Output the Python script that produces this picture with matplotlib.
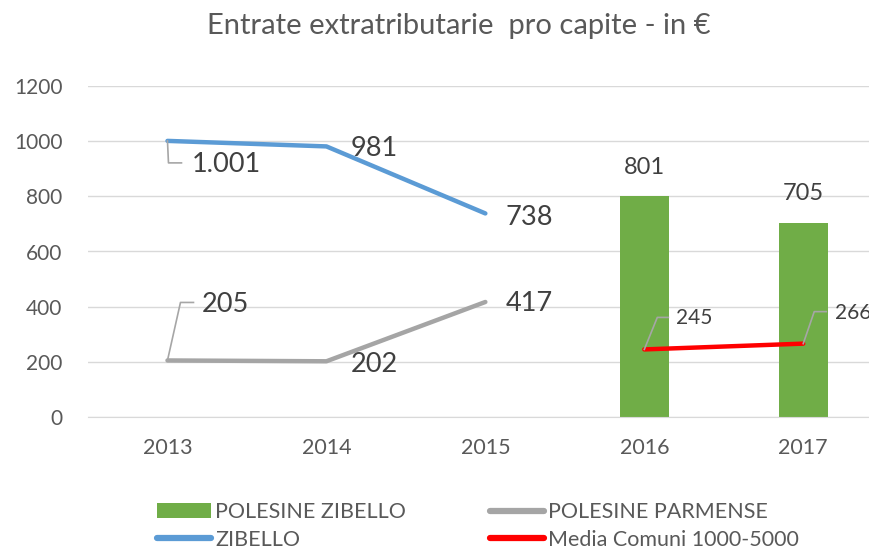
import matplotlib
matplotlib.use("Agg")
import matplotlib.pyplot as plt
from matplotlib.patches import Patch
from matplotlib.lines import Line2D
import numpy as np

plt.rcParams['font.family'] = ['Lato', 'DejaVu Sans']

years = ["2013", "2014", "2015", "2016", "2017"]
zibello = [1001, 981, 738]
parmense = [205, 202, 417]
polesine_zibello = [801, 705]
media = [245, 266]
zibello_labels = ["1.001", "981", "738"]
parmense_labels = ["205", "202", "417"]
bar_labels = ["801", "705"]
media_labels = ["245", "266"]
yticks = [0, 200, 400, 600, 800, 1000, 1200]

GREEN = "#70AD47"
BLUE = "#5B9BD5"
GRAY = "#A5A5A5"
RED = "#FF0000"
TXT = "#404040"
TICK = "#595959"

fig = plt.figure(figsize=(8.7, 5.52), dpi=100)
ax = fig.add_axes([88/870, (552-417)/552, 1 - 88/870, (417-86)/552])

x = np.arange(len(years))
xl = x[:3]
xb = x[3:]

ax.bar(xb, polesine_zibello, width=0.31, color=GREEN, zorder=2)
ax.plot(xl, zibello, color=BLUE, lw=3.2, solid_capstyle='round', zorder=3)
ax.plot(xl, parmense, color=GRAY, lw=3.2, solid_capstyle='round', zorder=3)
ax.plot(xb, media, color=RED, lw=3.2, solid_capstyle='round', zorder=4)

ax.set_xlim(-0.5, 4.42)
ax.set_ylim(0, 1200)
ax.set_yticks(yticks)
ax.set_xticks(x)
ax.set_xticklabels(years)
ax.grid(axis='y', color='#D9D9D9', lw=1, zorder=0)
ax.set_axisbelow(True)
for s in ax.spines.values():
    s.set_visible(False)
ax.spines['bottom'].set_visible(True)
ax.spines['bottom'].set_color('#D9D9D9')
ax.tick_params(axis='both', length=0, colors=TICK)
ax.tick_params(axis='x', pad=15, labelsize=15.5)
ax.tick_params(axis='y', pad=18.5, labelsize=15)

fig.text(0.527, 0.952, "Entrate extratributarie  pro capite - in €", ha='center', va='center',
         fontsize=21, color=TICK)

def to_disp(xv, yv):
    return ax.transData.transform((xv, yv))

def leader(xv, yv, pts):
    px, py = to_disp(xv, yv)
    xs = [px + p[0] for p in pts]
    ys = [py + p[1] for p in pts]
    fig.add_artist(Line2D(xs, ys, transform=None, color="#A6A6A6", lw=1.2, zorder=5))

def label(xv, yv, txt, dx, dy, size, ha='left'):
    px, py = to_disp(xv, yv)
    fig.text((px + dx)/870, (py + dy)/552, txt, ha=ha, va='center', fontsize=size, color=TXT)

BIG = 19.5
# ZIBELLO labels
leader(xl[0], zibello[0], [(0, 0), (1, -22), (14, -22)])
label(xl[0], zibello[0], zibello_labels[0], 24, -24, BIG)
label(xl[1], zibello[1], zibello_labels[1], 24, -2, BIG)
label(xl[2], zibello[2], zibello_labels[2], 20, -4, BIG)
# PARMENSE labels
leader(xl[0], parmense[0], [(0, 0), (13, 58), (26, 58)])
label(xl[0], parmense[0], parmense_labels[0], 34, 56, BIG)
label(xl[1], parmense[1], parmense_labels[1], 24, -3, BIG)
label(xl[2], parmense[2], parmense_labels[2], 20, -2, BIG)
# bar labels
for xi, v, t in zip(xb, polesine_zibello, bar_labels):
    label(xi, v, t, 0, 29, 17, ha='center')
# media labels
leader(xb[0], media[0], [(0, 0), (13, 32), (24, 32)])
label(xb[0], media[0], media_labels[0], 32, 31, 15)
leader(xb[1], media[1], [(0, 0), (11, 32), (23, 32)])
label(xb[1], media[1], media_labels[1], 32, 31, 15)

handles = [Patch(facecolor=GREEN, edgecolor='none'),
           Line2D([], [], color=BLUE, lw=4.5, solid_capstyle='round'),
           Line2D([], [], color=GRAY, lw=4.5, solid_capstyle='round'),
           Line2D([], [], color=RED, lw=4.5, solid_capstyle='round')]
labels = ["POLESINE ZIBELLO", "ZIBELLO", "POLESINE PARMENSE", "Media Comuni 1000-5000"]
leg = fig.legend(handles, labels, ncol=2, loc='center left', bbox_to_anchor=(157/870, 1 - 526/552),
                 frameon=False, fontsize=15.5, handlelength=2.5, handletextpad=0.2,
                 columnspacing=3.9, labelspacing=0.35, borderaxespad=0, borderpad=0)
for t in leg.get_texts():
    t.set_color(TICK)

fig.savefig("out.png", dpi=100)
